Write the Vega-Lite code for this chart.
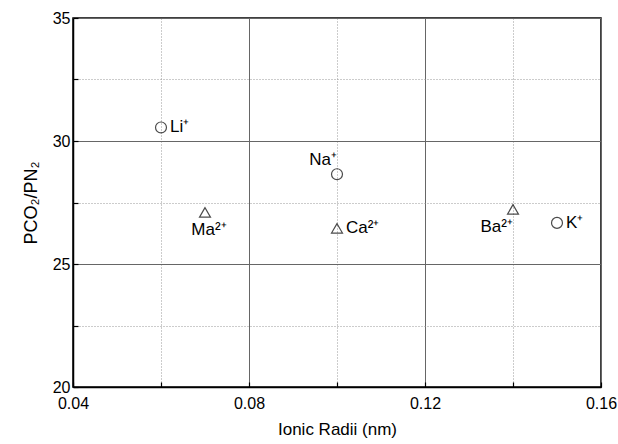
{
  "$schema": "https://vega.github.io/schema/vega-lite/v6.json",
  "width": 528,
  "height": 369,
  "autosize": {"type": "none"},
  "padding": {"left": 73, "top": 18, "right": 17, "bottom": 57},
  "background": "white",
  "config": {
    "font": "Liberation Sans",
    "view": {"stroke": "black", "strokeWidth": 1.5}
  },
  "data": {
    "values": [
      {"ion": "Li⁺", "r": 0.06, "sel": 30.55, "type": "monovalent", "pos": "right"},
      {"ion": "Na⁺", "r": 0.10, "sel": 28.65, "type": "monovalent", "pos": "aboveleft"},
      {"ion": "K⁺", "r": 0.15, "sel": 26.67, "type": "monovalent", "pos": "right"},
      {"ion": "Ma²⁺", "r": 0.07, "sel": 27.1, "type": "divalent", "pos": "below"},
      {"ion": "Ca²⁺", "r": 0.10, "sel": 26.45, "type": "divalent", "pos": "right"},
      {"ion": "Ba²⁺", "r": 0.14, "sel": 27.22, "type": "divalent", "pos": "belowleft"}
    ]
  },
  "encoding": {
    "x": {
      "field": "r", "type": "quantitative",
      "scale": {"domain": [0.04, 0.16], "nice": false, "zero": false},
      "axis": {
        "title": "Ionic Radii (nm)",
        "titleFont": "Liberation Sans",
        "titleFontSize": 17,
        "titleFontWeight": "normal",
        "titleColor": "black",
        "titlePadding": 10,
        "domainColor": "black",
        "domainWidth": 1.5,
        "tickColor": "black",
        "tickSize": -5,
        "tickWidth": 1.2,
        "values": [0.04, 0.06, 0.08, 0.10, 0.12, 0.14, 0.16],
        "labelExpr": "round(datum.value*100) % 4 == 0 ? format(datum.value, '.2f') : ''",
        "labelFont": "Liberation Sans",
        "labelFontSize": 16,
        "labelColor": "black",
        "labelFlush": false,
        "labelPadding": 13,
        "gridWidth": 1,
        "gridDash": {"condition": {"test": "round(datum.value*100) % 4 != 0", "value": [1, 2]}, "value": []},
        "gridColor": {"condition": {"test": "round(datum.value*100) % 4 != 0", "value": "#999999"}, "value": "#666666"}
      }
    },
    "y": {
      "field": "sel", "type": "quantitative",
      "scale": {"domain": [20, 35], "nice": false, "zero": false},
      "axis": {
        "title": "PCO₂/PN₂",
        "titleFont": "Liberation Sans",
        "titleFontSize": 18,
        "titleFontWeight": "normal",
        "titleColor": "black",
        "titlePadding": 12,
        "domainColor": "black",
        "domainWidth": 1.5,
        "tickColor": "black",
        "tickSize": -5,
        "tickWidth": 1.2,
        "values": [20, 22.5, 25, 27.5, 30, 32.5, 35],
        "labelExpr": "datum.value % 5 == 0 ? datum.label : ''",
        "labelFont": "Liberation Sans",
        "labelFontSize": 16,
        "labelColor": "black",
        "labelFlush": false,
        "labelPadding": 8,
        "gridWidth": 1,
        "gridDash": {"condition": {"test": "datum.value % 5 != 0", "value": [1, 2]}, "value": []},
        "gridColor": {"condition": {"test": "datum.value % 5 != 0", "value": "#999999"}, "value": "#666666"}
      }
    }
  },
  "layer": [
    {
      "mark": {"type": "point", "filled": false, "stroke": "black", "strokeWidth": 1.2, "size": 120},
      "encoding": {
        "shape": {
          "field": "type", "type": "nominal",
          "scale": {"domain": ["monovalent", "divalent"], "range": ["circle", "triangle-up"]},
          "legend": null
        }
      }
    },
    {
      "transform": [{"filter": "datum.pos == 'right'"}],
      "mark": {"type": "text", "align": "left", "baseline": "middle", "dx": 9, "fontSize": 17, "font": "Liberation Sans", "color": "black"},
      "encoding": {"text": {"field": "ion"}}
    },
    {
      "transform": [{"filter": "datum.pos == 'aboveleft'"}],
      "mark": {"type": "text", "align": "right", "baseline": "bottom", "dx": 0, "dy": -5, "fontSize": 17, "font": "Liberation Sans", "color": "black"},
      "encoding": {"text": {"field": "ion"}}
    },
    {
      "transform": [{"filter": "datum.pos == 'below'"}],
      "mark": {"type": "text", "align": "center", "baseline": "top", "dx": 4, "dy": 10, "fontSize": 17, "font": "Liberation Sans", "color": "black"},
      "encoding": {"text": {"field": "ion"}}
    },
    {
      "transform": [{"filter": "datum.pos == 'belowleft'"}],
      "mark": {"type": "text", "align": "right", "baseline": "top", "dx": 0, "dy": 10, "fontSize": 17, "font": "Liberation Sans", "color": "black"},
      "encoding": {"text": {"field": "ion"}}
    }
  ]
}
